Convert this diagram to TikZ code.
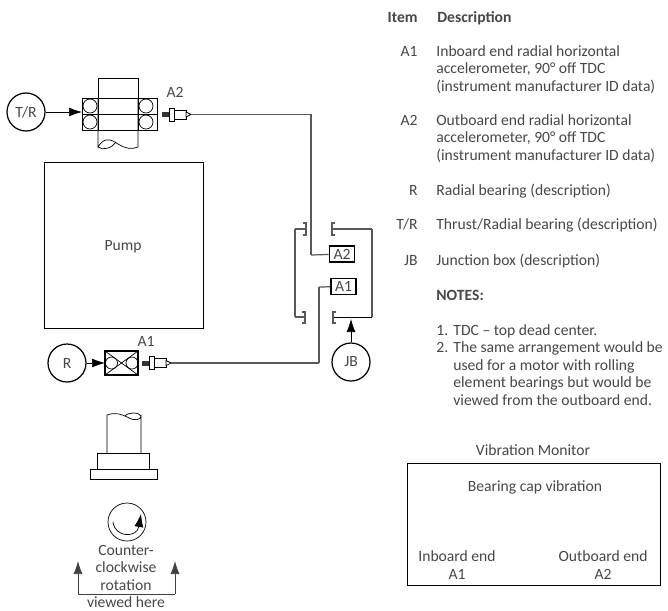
\documentclass[tikz,border=0pt]{standalone}
\usepackage{xcolor}
\usepackage{fontspec}
\setmainfont{Carlito}
\usetikzlibrary{arrows.meta}
\usetikzlibrary{positioning}
\pgfdeclarelayer{edgelayer}
\pgfdeclarelayer{nodelayer}
\pgfsetlayers{edgelayer,main,nodelayer}
\definecolor{ink}{gray}{0.28}
\tikzstyle{none}=[inner sep=0mm]
\tikzstyle{every picture}=[line width=0.6pt,x=0.02cm,y=-0.02cm]
\tikzstyle{txt}=[inner sep=0mm,text=ink,font=\fontsize{8.9}{10}\selectfont]
\tikzstyle{itm}=[txt,anchor=base east]
\tikzstyle{dsc}=[txt,anchor=north west,align=left]
\tikzstyle{ctr}=[txt,anchor=base,align=center]
\tikzstyle{circ}=[draw=black,line width=0.7pt,shape=circle,minimum size=0.76cm,inner sep=0mm,text=ink,font=\fontsize{8.9}{10}\selectfont]
\tikzstyle{tagbox}=[draw=black,line width=1pt,inner sep=0mm,minimum width=0.5cm,minimum height=0.32cm,text=ink,font=\fontsize{8.9}{10}\selectfont]
\tikzstyle{wire}=[draw=black!65,line width=0.7pt]
\tikzstyle{tipped}=[-{Latex[length=0.26cm,width=0.18cm]}]
\tikzset{
	sens/.pic={
		\fill[black!80] (0,-2.5) rectangle (7,2.5);
		\draw[fill=white] (7,-6.5) rectangle (12,6.5);
		\draw[fill=white] (12,-4.5) rectangle (24,4.5);
		\draw[fill=white] (24,-2.5) -- (29,0) -- (24,2.5) -- cycle;
		\coordinate (-tip) at (29,0);
	}
}
\begin{document}
\begin{tikzpicture}
	\useasboundingbox (0,0) rectangle (668,610);
	\begin{pgfonlayer}{nodelayer}
		\node [style=circ] (tr) at (26,112) {T/R};
		\node [style=circ] (r) at (67,363) {R};
		\node [style=circ] (jb) at (351,362) {JB};
		\node [style=tagbox] (a2) at (342,254) {A2};
		\node [style=tagbox] (a1) at (343.5,286.5) {A1};
		\node [style=none] (w2) at (311,255) {};
		\node [style=none] (w1) at (319,287) {};
		\node [style=none] (w3) at (319,363) {};
		\node [style=none] (bl1) at (306,229) {};
		\node [style=none] (bl2) at (305,317) {};
		\node [style=none] (br1) at (332,229) {};
		\node [style=none] (br2) at (333,317) {};
		\node [style=none] (cl1) at (295,229) {};
		\node [style=none] (cl2) at (295,317) {};
		\node [style=none] (cr1) at (372,229) {};
		\node [style=none] (cr2) at (372,317) {};
		\node [style=none] (jbt) at (351,319) {};
		\node [style=none] (ta) at (82,112) {};
		\node [style=none] (rb) at (105,363) {};
		\node [style=none] (ul) at (78,594) {};
		\node [style=none] (ur) at (175,594) {};
		\node [style=none] (ula) at (78,561) {};
		\node [style=none] (ura) at (175,561) {};
		\node [style=ctr] (la2) at (175,97) {A2};
		\node [style=ctr] (la1) at (146,346) {A1};
		\node [style=txt] (pump) at (123,247) {Pump};
		\node [style=ctr] (c1) at (126,555) {Counter-};
		\node [style=ctr] (c2) at (126,572) {clockwise};
		\node [style=ctr] (c3) at (126,590) {rotation};
		\node [style=ctr] (c4) at (126,607) {viewed here};
		\node [style=itm] (hi) at (418,22) {\textbf{Item}};
		\node [style=txt,anchor=base west] (hd) at (437,22) {\textbf{Description}};
		\node [style=itm] (i1) at (418,56) {A1};
		\node [style=itm] (i2) at (418,125) {A2};
		\node [style=itm] (i3) at (418,195) {R};
		\node [style=itm] (i4) at (418,229) {T/R};
		\node [style=itm] (i5) at (418,265) {JB};
		\node [style=dsc] (d1) at (436,45) {Inboard end radial horizontal\\accelerometer, 90° off TDC\\(instrument manufacturer ID data)};
		\node [style=dsc] (d2) at (436,114) {Outboard end radial horizontal\\accelerometer, 90° off TDC\\(instrument manufacturer ID data)};
		\node [style=dsc] (d3) at (436,184) {Radial bearing (description)};
		\node [style=dsc] (d4) at (436,218) {Thrust/Radial bearing (description)};
		\node [style=dsc] (d5) at (436,254) {Junction box (description)};
		\node [style=dsc] (nt) at (436,290) {\textbf{NOTES:}};
		\node [style=dsc] (n1) at (436,324.5) {1.\,\,TDC -- top dead center.};
		\node [style=dsc] (n2) at (436,341.5) {2.\,\,The same arrangement would be};
		\node [style=dsc] (n3) at (453,359) {used for a motor with rolling\\element bearings but would be\\viewed from the outboard end.};
		\node [style=ctr] (vm) at (533,455) {Vibration Monitor};
		\node [style=ctr] (bc) at (535,491) {Bearing cap vibration};
		\node [style=ctr] (ie) at (457,561) {Inboard end};
		\node [style=ctr] (ia) at (457,579) {A1};
		\node [style=ctr] (oe) at (603,561) {Outboard end};
		\node [style=ctr] (oa) at (603,579) {A2};
	\end{pgfonlayer}
	\begin{pgfonlayer}{edgelayer}
		\draw[tipped] (tr) to (ta.center);
		\draw[tipped] (r) to (rb.center);
		\draw[tipped] (jb) to (jbt.center);
		\draw[wire] (w2.center) to (a2);
		\draw[wire] (w1.center) to (a1);
		\draw[wire] (w3.center) to (w1.center);
		\draw[wire] (cl1.center) to (bl1.center);
		\draw[wire] (cl1.center) to (cl2.center);
		\draw[wire] (cl2.center) to (bl2.center);
		\draw[wire] (br1.center) to (cr1.center);
		\draw[wire] (cr1.center) to (cr2.center);
		\draw (cr2.center) to (br2.center);
		\draw[wire] (303,223) -- (306,223) -- (306,235) -- (303,235);
		\draw[wire] (302,312) -- (305,312) -- (305,323) -- (302,323);
		\draw[wire] (335,223) -- (332,223) -- (332,235) -- (335,235);
		\draw[wire] (336,312) -- (333,312) -- (333,323) -- (336,323);
		\draw[tipped,black!75] (ul.center) to (ula.center);
		\draw[tipped,black!75] (ur.center) to (ura.center);
		\draw[black!75] (ul.center) to (ur.center);
	\end{pgfonlayer}
	% pump and bearing housings
	\draw (44,162) rectangle (203,328);
	\draw (82,98) rectangle (157,130);
	\draw (82,114) -- (157,114);
	\draw (98,130) -- (98,78) -- (138,78) -- (138,130);
	\draw (98,98) -- (98,147) .. controls (103,138) and (110,138) .. (118,144) .. controls (124,148) and (132,150) .. (138,147) -- (138,98);
	\draw (98,147) .. controls (103,151) and (112,148) .. (116,142);
	\foreach \cx in {90,146}
		\foreach \cy in {106,122}
			\draw (\cx,\cy) circle (7);
	\draw[line width=0.8pt] (105,351) rectangle (138,375);
	\draw (105,351) -- (138,375) (105,375) -- (138,351);
	\draw (111.5,363) circle (6);
	\draw (132,363) circle (6);
	\pic (s2) at (162,114.5) {sens};
	\pic (s1) at (142,363) {sens};
	\draw[wire] (s2-tip) -| (w2.center);
	\draw[wire] (s1-tip) to (w3.center);
	% shaft end
	\draw (107,453) -- (107,415) .. controls (115,412) and (122,414) .. (129,418) .. controls (134,421) and (141,420) .. (141,416) -- (141,453);
	\draw (141,416) .. controls (139,412) and (128,412) .. (125,416);
	\draw (97,453) rectangle (149,469);
	\draw (90,469) rectangle (157,479);
	\draw (127,522) circle (19);
	\draw[tipped] (113,522) .. controls (115,538) and (137,538) .. (141,514);
	\draw (407,463) rectangle (660,585);
\end{tikzpicture}
\end{document}
